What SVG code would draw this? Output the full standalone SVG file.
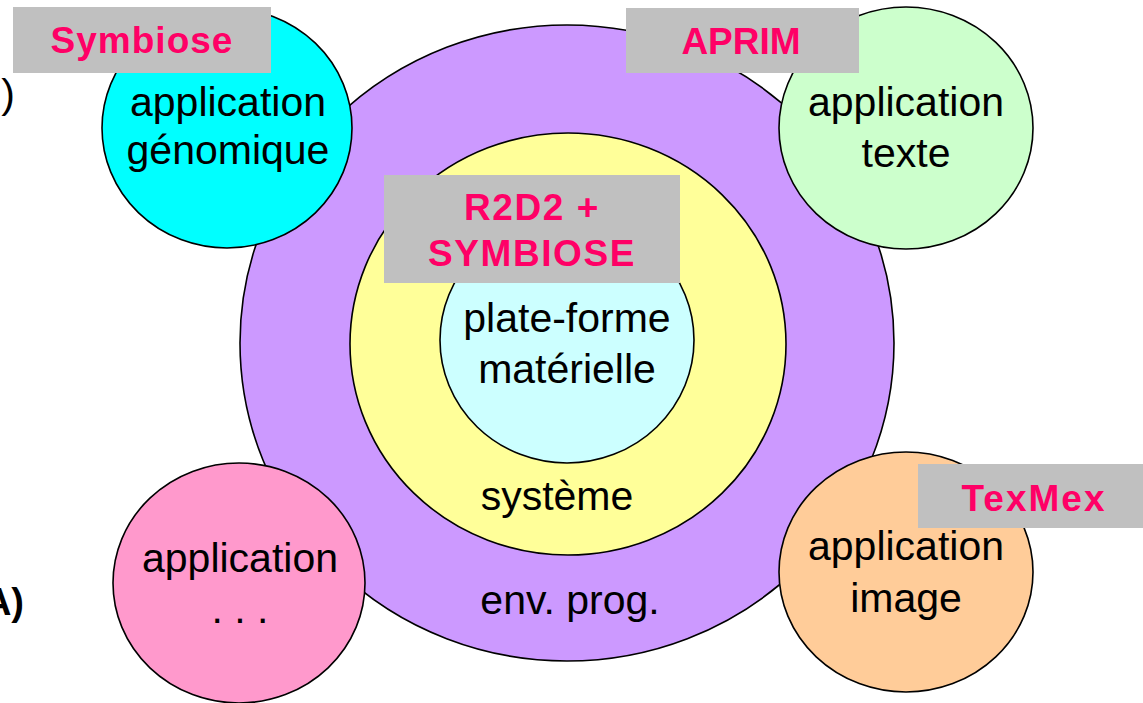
<svg xmlns="http://www.w3.org/2000/svg" width="1143" height="703" viewBox="0 0 1143 703">
<style>
.c{stroke:#000;stroke-width:1.6}
.t{font-family:"Liberation Sans",Arial,sans-serif;font-size:41px;fill:#000;text-anchor:middle}
.b{fill:#C0C0C0}
.l{font-family:"Liberation Sans",Arial,sans-serif;font-weight:bold;font-size:37px;fill:#FF0066;text-anchor:middle}
</style>
<rect width="1143" height="703" fill="#fff"/>
<g id="edge-text">
<text x="15" y="108" font-family="Liberation Sans, Arial, sans-serif" font-size="41" text-anchor="end">)</text>
<text x="24" y="615" font-family="Liberation Sans, Arial, sans-serif" font-size="38" font-weight="bold" text-anchor="end">A)</text>
</g>
<g id="env-prog">
<ellipse class="c" cx="567" cy="343" rx="327" ry="318" fill="#CC99FF"/>
<text class="t" x="570" y="614">env. prog.</text>
</g>
<g id="systeme">
<ellipse class="c" cx="568" cy="344" rx="218" ry="211" fill="#FFFF99"/>
<text class="t" x="557" y="510">système</text>
</g>
<g id="plate-forme">
<ellipse class="c" cx="567" cy="340" rx="127" ry="123" fill="#CCFFFF"/>
<text class="t" x="567" y="332">plate-forme</text>
<text class="t" x="567" y="383">matérielle</text>
</g>
<g id="app-genomique">
<ellipse class="c" cx="227" cy="128" rx="125" ry="120" fill="#00FFFF"/>
<text class="t" x="228" y="116">application</text>
<text class="t" x="228" y="164">génomique</text>
</g>
<g id="app-texte">
<ellipse class="c" cx="906" cy="128" rx="127" ry="121" fill="#CCFFCC"/>
<text class="t" x="906" y="116">application</text>
<text class="t" x="906" y="167">texte</text>
</g>
<g id="app-autre">
<ellipse class="c" cx="239" cy="583" rx="126" ry="120" fill="#FF99CC"/>
<text class="t" x="240" y="572">application</text>
<text class="t" x="240" y="623">. . .</text>
</g>
<g id="app-image">
<ellipse class="c" cx="906" cy="572" rx="127" ry="120" fill="#FFCC99"/>
<text class="t" x="906" y="560">application</text>
<text class="t" x="906" y="612">image</text>
</g>
<g id="connectors"></g>
<g id="label-symbiose">
<rect class="b" x="13" y="7" width="258" height="66"/>
<text class="l" x="142" y="53" letter-spacing="1">Symbiose</text>
</g>
<g id="label-aprim">
<rect class="b" x="626" y="8" width="233" height="65"/>
<text class="l" x="741" y="54">APRIM</text>
</g>
<g id="label-r2d2">
<rect class="b" x="384" y="175" width="296" height="108"/>
<text class="l" x="532" y="220" font-size="36" letter-spacing="1.6">R2D2 +</text>
<text class="l" x="532" y="266" font-size="36" letter-spacing="1.6">SYMBIOSE</text>
</g>
<g id="label-texmex">
<rect class="b" x="918" y="464" width="225" height="64"/>
<text class="l" x="1034" y="511" letter-spacing="2">TexMex</text>
</g>
</svg>
